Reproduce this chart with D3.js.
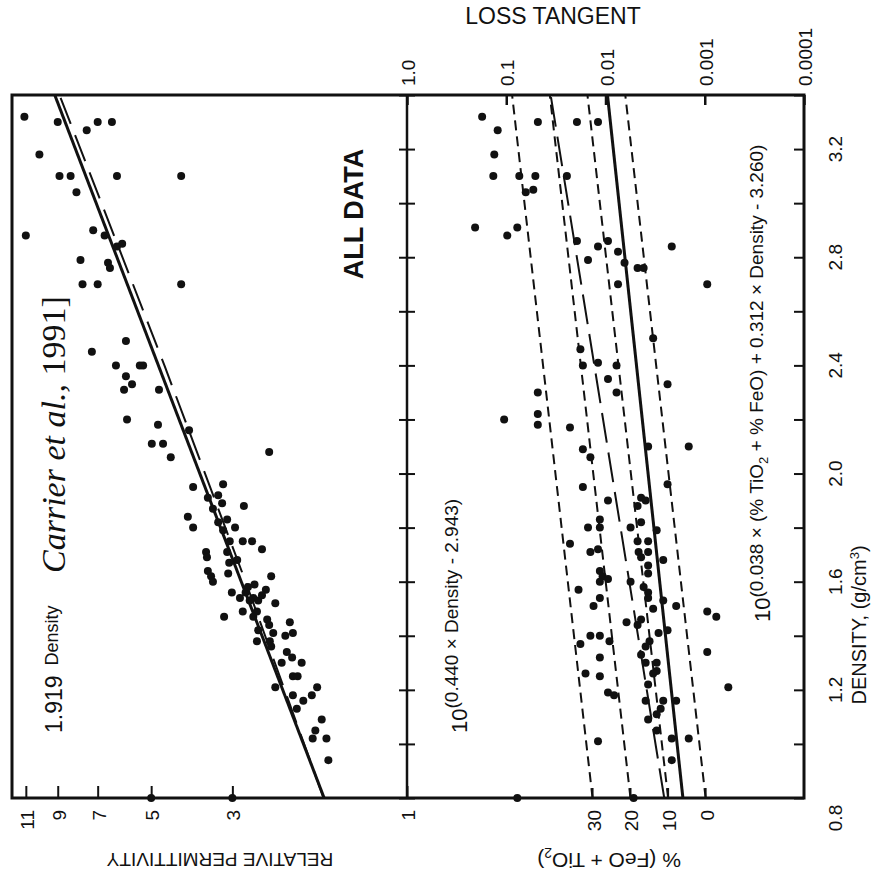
<!DOCTYPE html>
<html>
<head>
<meta charset="utf-8">
<script src="https://cdn.jsdelivr.net/npm/d3@7"></script>
<style>
body { margin: 0; background: #fff; }
text { font-family: "Liberation Sans", Arial, sans-serif; fill: #111; }
</style>
</head>
<body>
<div id="chart"></div>
<script>
// values: [density, relative permittivity]
var permPoints = [
  [3.32, 11.1], [3.18, 10.1], [3.30, 9.0], [3.27, 7.5], [3.30, 7.0], [3.30, 6.4],
  [3.10, 8.9], [3.10, 8.3], [3.04, 8.0], [3.10, 6.2], [3.10, 4.14],
  [2.88, 11.0], [2.90, 7.2], [2.88, 6.7], [2.84, 6.2], [2.85, 6.0], [2.78, 6.56], [2.76, 6.48],
  [2.79, 7.8], [2.70, 7.7], [2.70, 7.0], [2.70, 4.14],
  [2.49, 5.86], [2.45, 7.26], [2.40, 5.37], [2.40, 5.26], [2.40, 6.24], [2.36, 5.86], [2.33, 5.64], [2.31, 5.93], [2.31, 4.76],
  [2.20, 5.82], [2.18, 4.79], [2.16, 3.94], [2.11, 4.98], [2.11, 4.64], [2.06, 4.42], [2.08, 2.38],
  [1.95, 3.84], [1.96, 3.18], [1.92, 3.28], [1.91, 3.50], [1.89, 3.20], [1.87, 3.39], [1.88, 2.79],
  [1.84, 3.97], [1.80, 3.84], [1.82, 3.28], [1.83, 3.10], [1.79, 3.18], [1.80, 2.95],
  [1.75, 3.05], [1.75, 2.81], [1.75, 2.65], [1.72, 2.49], [1.71, 3.54], [1.69, 3.52], [1.71, 3.10], [1.68, 2.91],
  [1.64, 3.50], [1.62, 3.43], [1.60, 3.39], [1.67, 3.06], [1.63, 3.08], [1.56, 3.01], [1.47, 3.16],
  [1.58, 2.72], [1.62, 2.35], [1.57, 2.43], [1.54, 2.63], [1.53, 2.69], [1.53, 2.55], [1.49, 2.81], [1.49, 2.57], [1.52, 2.29],
  [1.56, 2.76], [1.59, 2.61], [1.54, 2.86], [1.55, 2.49],
  [1.47, 2.63], [1.46, 2.41], [1.42, 2.55], [1.38, 2.57], [1.44, 2.38], [1.41, 2.32], [1.38, 2.37],
  [1.45, 2.09], [1.40, 2.15], [1.41, 2.05], [1.36, 2.35], [1.34, 2.13], [1.32, 2.06], [1.30, 1.94], [1.30, 2.20],
  [1.25, 2.05], [1.25, 1.99], [1.21, 2.29], [1.18, 2.05], [1.16, 1.92], [1.13, 2.00], [1.21, 1.76], [1.18, 1.82],
  [1.09, 1.71], [1.05, 1.78], [1.02, 1.81], [1.02, 1.66], [0.94, 1.64],
  [0.80, 5.0], [0.80, 3.0]
];

// [density, loss tangent]
var lossPoints = [
  [3.32, 0.175], [3.27, 0.122], [3.30, 0.048], [3.30, 0.0194], [3.30, 0.0119],
  [3.18, 0.132], [3.10, 0.135], [3.10, 0.0739], [3.10, 0.0509], [3.04, 0.0636], [3.05, 0.0534], [3.10, 0.0245],
  [2.91, 0.206], [2.88, 0.0977], [2.91, 0.0774], [2.86, 0.0194], [2.79, 0.0150], [2.84, 0.0119], [2.86, 0.00944],
  [2.82, 0.00748], [2.78, 0.00643], [2.76, 0.00475], [2.76, 0.00413], [2.70, 0.00748], [2.84, 0.00215], [2.70, 0.000944],
  [2.50, 0.00331], [2.46, 0.0179], [2.40, 0.0169], [2.41, 0.0119], [2.40, 0.00774], [2.35, 0.00944], [2.30, 0.00774], [2.33, 0.00237],
  [2.30, 0.0481], [2.20, 0.105], [2.22, 0.0481], [2.18, 0.0481], [2.17, 0.0228], [2.09, 0.0169], [2.06, 0.0142], [2.10, 0.00372], [2.10, 0.00145],
  [1.95, 0.0169], [1.90, 0.00944], [1.96, 0.00237], [1.91, 0.00438], [1.90, 0.00394], [1.88, 0.00475],
  [1.82, 0.00438], [1.80, 0.00559], [1.79, 0.00305], [1.80, 0.0150], [1.83, 0.0114], [1.80, 0.0114],
  [1.74, 0.0228], [1.71, 0.0142], [1.72, 0.0119], [1.75, 0.00475], [1.75, 0.00372], [1.71, 0.00372], [1.71, 0.00464],
  [1.64, 0.0114], [1.62, 0.0107], [1.60, 0.0114], [1.61, 0.00944], [1.57, 0.0187], [1.54, 0.0114], [1.51, 0.0132],
  [1.69, 0.00438], [1.66, 0.00372], [1.63, 0.00372], [1.68, 0.00262], [1.60, 0.00559], [1.58, 0.00413], [1.56, 0.00372], [1.54, 0.00372],
  [1.50, 0.00331], [1.53, 0.00262], [1.51, 0.00194], [1.49, 0.000944], [1.47, 0.000765],
  [1.45, 0.00614], [1.44, 0.00475], [1.46, 0.00438], [1.41, 0.00292], [1.42, 0.00237],
  [1.40, 0.0142], [1.40, 0.0114], [1.37, 0.0179], [1.38, 0.00912], [1.38, 0.00360], [1.36, 0.00394], [1.34, 0.000944],
  [1.33, 0.00438], [1.30, 0.00394], [1.32, 0.0114], [1.30, 0.00305], [1.27, 0.00305], [1.26, 0.00331], [1.26, 0.0159], [1.25, 0.0114],
  [1.22, 0.00372], [1.19, 0.00944], [1.18, 0.00820], [1.16, 0.00394], [1.16, 0.00262], [1.13, 0.00278], [1.11, 0.00305], [1.16, 0.00194],
  [1.21, 0.000579], [1.09, 0.00372], [1.05, 0.00305], [1.01, 0.0119], [1.02, 0.00215], [1.02, 0.00145], [0.94, 0.00215],
  [0.80, 0.0774], [0.80, 0.00521]
];

// fitted lines (end values)
var fitDensity = [0.8, 3.4];
var permFitValue = [1.684, 9.17];           // 1.919^density
var permAltDensity = [0.8, 1.6, 2.4, 3.4];  // dashed curve
var permAltValue = [1.69, 2.76, 4.6, 8.9];
var lossFitAll = [0.00256, 0.0357];         // 10^(0.440 x density - 2.943)
var lossFitHeavy = [0.00166, 0.00955];      // heavy solid line
var compLabels = ['30', '20', '10', '0'];   // % (FeO + TiO2)
var compTanLow = [0.0135, 0.0056, 0.00234, 0.00098];
var compTanHigh = [0.0873, 0.0364, 0.0152, 0.00632];

// axes
var densityTicks = [0.8, 1.0, 1.2, 1.4, 1.6, 1.8, 2.0, 2.2, 2.4, 2.6, 2.8, 3.0, 3.2, 3.4];
var densityLabels = [0.8, 1.2, 1.6, 2.0, 2.4, 2.8, 3.2];
var permTicks = [1, 3, 5, 7, 9, 11];
var lossTicks = [1, 0.1, 0.01, 0.001, 0.0001];
var lossTickLabels = ['1.0', '0.1', '0.01', '0.001', '0.0001'];

var chartWidth = 872, chartHeight = 890;
var plotLeft = 12, plotMid = 407, plotRight = 804, plotTop = 95, plotBottom = 798;

var svg = d3.select('#chart').append('svg')
    .attr('width', chartWidth)
    .attr('height', chartHeight);

var y = d3.scaleLinear().domain([0.8, 3.4]).range([plotBottom, plotTop]);
var xPerm = d3.scaleLog().domain([1, 12]).range([plotMid, plotLeft]);
var xLoss = d3.scaleLog().domain([1, 0.0001]).range([plotMid, plotRight]);

var defs = svg.append('defs');
defs.append('clipPath').attr('id', 'clipL').append('rect')
    .attr('x', plotLeft).attr('y', plotTop)
    .attr('width', plotMid - plotLeft).attr('height', plotBottom - plotTop);
defs.append('clipPath').attr('id', 'clipR').append('rect')
    .attr('x', plotMid).attr('y', plotTop)
    .attr('width', plotRight - plotMid).attr('height', plotBottom - plotTop);

// fit lines
var permLine = d3.line().x(d => xPerm(d[1])).y(d => y(d[0]));
var lossLine = d3.line().x(d => xLoss(d[1])).y(d => y(d[0]));

var gL = svg.append('g').attr('clip-path', 'url(#clipL)');
gL.append('path')
    .attr('d', permLine(fitDensity.map((d, i) => [d, permFitValue[i]])))
    .attr('fill', 'none').attr('stroke', '#111').attr('stroke-width', 3);
gL.append('path')
    .attr('d', permLine(permAltDensity.map((d, i) => [d, permAltValue[i]])))
    .attr('fill', 'none').attr('stroke', '#111').attr('stroke-width', 2)
    .attr('stroke-dasharray', '28,12');

var gR = svg.append('g').attr('clip-path', 'url(#clipR)');
compLabels.forEach(function(c, i) {
  gR.append('path')
      .attr('d', lossLine([[0.8, compTanLow[i]], [3.4, compTanHigh[i]]]))
      .attr('fill', 'none').attr('stroke', '#111').attr('stroke-width', 2)
      .attr('stroke-dasharray', '10,6');
});
gR.append('path')
    .attr('d', lossLine(fitDensity.map((d, i) => [d, lossFitAll[i]])))
    .attr('fill', 'none').attr('stroke', '#111').attr('stroke-width', 2)
    .attr('stroke-dasharray', '30,10');
gR.append('path')
    .attr('d', lossLine(fitDensity.map((d, i) => [d, lossFitHeavy[i]])))
    .attr('fill', 'none').attr('stroke', '#111').attr('stroke-width', 3);

// points
svg.append('g').selectAll('circle')
    .data(permPoints)
    .enter().append('circle')
    .attr('cx', d => xPerm(d[1]))
    .attr('cy', d => y(d[0]))
    .attr('r', 4)
    .attr('fill', '#111');

svg.append('g').selectAll('circle')
    .data(lossPoints)
    .enter().append('circle')
    .attr('cx', d => xLoss(d[1]))
    .attr('cy', d => y(d[0]))
    .attr('r', 4)
    .attr('fill', '#111');

// frame
svg.append('rect')
    .attr('x', plotLeft).attr('y', plotTop)
    .attr('width', plotRight - plotLeft).attr('height', plotBottom - plotTop)
    .attr('fill', 'none').attr('stroke', '#111').attr('stroke-width', 3);
svg.append('line')
    .attr('x1', plotMid).attr('x2', plotMid).attr('y1', plotTop).attr('y2', plotBottom)
    .attr('stroke', '#111').attr('stroke-width', 2.5);

// density axis on the right edge
var densAxis = svg.append('g')
    .attr('transform', 'translate(' + plotRight + ',0)')
    .call(d3.axisRight(y).tickValues(densityTicks).tickSize(-10).tickFormat(''));
densAxis.select('.domain').remove();
densAxis.selectAll('line').attr('stroke', '#111').attr('stroke-width', 2);

svg.append('g').selectAll('text')
    .data(densityLabels)
    .enter().append('text')
    .attr('transform', d => 'translate(842,' + (y(d) + (d === 0.8 ? 20 : 0)) + ') rotate(-90)')
    .attr('text-anchor', 'middle')
    .style('font-size', '19px')
    .text(d => d.toFixed(1));

var densTitle = svg.append('text')
    .attr('transform', 'translate(866,625) rotate(-90)')
    .attr('text-anchor', 'middle')
    .style('font-size', '20px')
    .text('DENSITY, (g/cm');
densTitle.append('tspan').attr('dy', -7).style('font-size', '13px').text('3');
densTitle.append('tspan').attr('dy', 7).text(')');

// ticks on both sides of the divider
[d3.axisLeft(y), d3.axisRight(y)].forEach(function(ax) {
  var g = svg.append('g')
      .attr('transform', 'translate(' + plotMid + ',0)')
      .call(ax.tickValues(densityTicks).tickSize(8).tickFormat(''));
  g.select('.domain').remove();
  g.selectAll('line').attr('stroke', '#111').attr('stroke-width', 2);
});

// permittivity axis (bottom, left panel)
var permAxis = svg.append('g')
    .attr('transform', 'translate(0,' + plotBottom + ')')
    .call(d3.axisBottom(xPerm).tickValues(permTicks).tickSize(-12).tickFormat(''));
permAxis.select('.domain').remove();
permAxis.selectAll('line').attr('stroke', '#111').attr('stroke-width', 2);

svg.append('g').selectAll('text')
    .data(permTicks)
    .enter().append('text')
    .attr('transform', d => 'translate(' + (xPerm(d) + 8) + ',810) rotate(-90)')
    .attr('text-anchor', 'end')
    .style('font-size', '19px')
    .text(d => d);

// composition ticks (bottom, right panel)
svg.append('g').selectAll('line')
    .data(compTanLow)
    .enter().append('line')
    .attr('x1', d => xLoss(d)).attr('x2', d => xLoss(d))
    .attr('y1', plotBottom).attr('y2', plotBottom - 10)
    .attr('stroke', '#111').attr('stroke-width', 2);

svg.append('g').selectAll('text')
    .data(compLabels)
    .enter().append('text')
    .attr('transform', (d, i) => 'translate(' + (xLoss(compTanLow[i]) + 8) + ',810) rotate(-90)')
    .attr('text-anchor', 'end')
    .style('font-size', '19px')
    .text(d => d);

// loss tangent axis (top, right panel)
var lossAxis = svg.append('g')
    .attr('transform', 'translate(0,' + plotTop + ')')
    .call(d3.axisTop(xLoss).tickValues(lossTicks).tickSize(-10).tickFormat(''));
lossAxis.select('.domain').remove();
lossAxis.selectAll('line').attr('stroke', '#111').attr('stroke-width', 2.5);

svg.append('g').selectAll('text')
    .data(lossTicks)
    .enter().append('text')
    .attr('transform', d => 'translate(' + (xLoss(d) + 8) + ',86) rotate(-90)')
    .attr('text-anchor', 'start')
    .style('font-size', '19px')
    .text((d, i) => lossTickLabels[i]);

svg.append('text')
    .attr('x', 553).attr('y', 24)
    .attr('text-anchor', 'middle')
    .style('font-size', '23px')
    .text('LOSS TANGENT');

// upside-down axis titles at the bottom
svg.append('text')
    .attr('transform', 'translate(220,853) rotate(180)')
    .attr('text-anchor', 'middle')
    .style('font-size', '19px')
    .text('RELATIVE PERMITTIVITY');

var compTitle = svg.append('text')
    .attr('transform', 'translate(609,853) rotate(180)')
    .attr('text-anchor', 'middle')
    .style('font-size', '21px')
    .text('% (FeO + TiO');
compTitle.append('tspan').attr('dy', 5).style('font-size', '14px').text('2');
compTitle.append('tspan').attr('dy', -5).text(')');

// annotations inside the panels
svg.append('text')
    .attr('transform', 'translate(363,214) rotate(-90)')
    .attr('text-anchor', 'middle')
    .style('font-size', '27px')
    .style('font-weight', 'bold')
    .text('ALL DATA');

var carrier = svg.append('text')
    .attr('transform', 'translate(65,573) rotate(-90)')
    .style('font-family', '"Liberation Serif", "Times New Roman", serif')
    .style('font-size', '34px');
carrier.append('tspan').style('font-style', 'italic').text('Carrier et al.,');
carrier.append('tspan').text(' 1991]');

var permEq = svg.append('text')
    .attr('transform', 'translate(62,733) rotate(-90)')
    .style('font-size', '23px')
    .text('1.919');
permEq.append('tspan').attr('dx', 10).attr('dy', -4).style('font-size', '18px').text('Density');

var lossEq1 = svg.append('text')
    .attr('transform', 'translate(467,733) rotate(-90)')
    .style('font-size', '22px')
    .text('10');
lossEq1.append('tspan').attr('dy', -9).style('font-size', '19px')
    .text('(0.440 × Density - 2.943)');

var lossEq2 = svg.append('text')
    .attr('transform', 'translate(770,622) rotate(-90)')
    .style('font-size', '22px')
    .text('10');
lossEq2.append('tspan').attr('dy', -7).style('font-size', '19px')
    .text('(0.038 × (% TiO');
lossEq2.append('tspan').attr('dy', 5).style('font-size', '13px').text('2');
lossEq2.append('tspan').attr('dy', -5).style('font-size', '19px')
    .text(' + % FeO) + 0.312 × Density - 3.260)');
</script>
</body>
</html>
